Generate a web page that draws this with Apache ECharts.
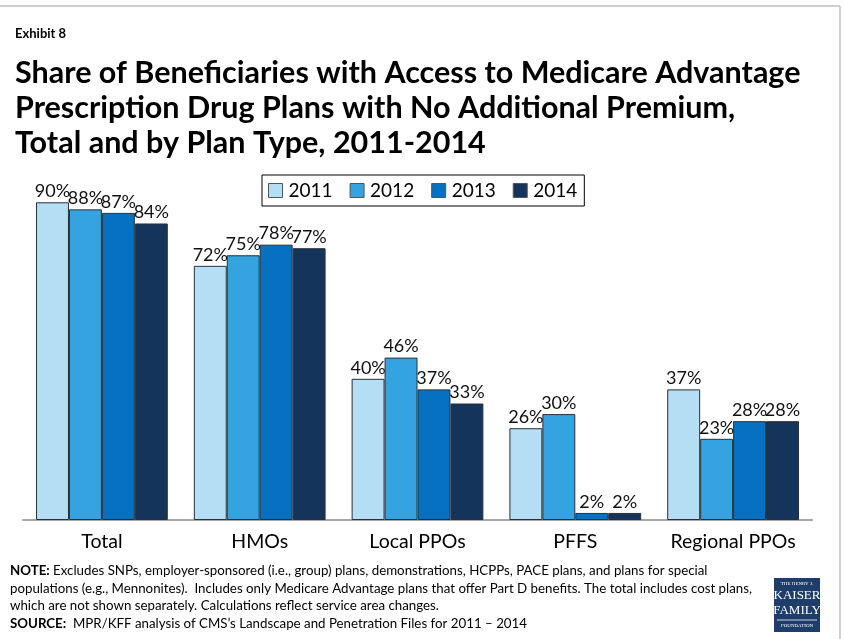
<!DOCTYPE html>
<html>
<head>
<meta charset="utf-8">
<script src="https://cdn.jsdelivr.net/npm/echarts@6/dist/echarts.min.js"></script>
<style>
  html, body { margin: 0; padding: 0; background: #ffffff; }
  #chart { width: 844px; height: 639px; }
</style>
</head>
<body>
<div id="chart"></div>
<script>
// Plan types along the x axis
const categories = ['Total', 'HMOs', 'Local PPOs', 'PFFS', 'Regional PPOs'];
// Share (%) of beneficiaries with a $0-premium MA-PD plan, by year
const years = ['2011', '2012', '2013', '2014'];
const values2011 = [90, 72, 40, 26, 37];
const values2012 = [88, 75, 46, 30, 23];
const values2013 = [87, 78, 37, 2, 28];
const values2014 = [84, 77, 33, 2, 28];
const seriesValues = [values2011, values2012, values2013, values2014];

const colors = ['#B4DEF3', '#35A3E0', '#0571C0', '#15345B'];
const FONT = 'Lato';

const chart = echarts.init(document.getElementById('chart'), null, { renderer: 'canvas' });

chart.setOption({
  backgroundColor: '#ffffff',
  animation: false,
  textStyle: { fontFamily: FONT },
  title: [
    {
      text: 'Exhibit 8',
      left: 10, top: 22,
      textStyle: { fontSize: 13, fontWeight: 'bold', color: '#000', fontFamily: FONT }
    },
    {
      text: 'Share of Beneficiaries with Access to Medicare Advantage\nPrescription Drug Plans with No Additional Premium,\nTotal and by Plan Type, 2011-2014',
      left: 10, top: 51,
      textStyle: { fontSize: 30.5, fontWeight: 'bold', color: '#000', fontFamily: FONT, lineHeight: 35 }
    }
  ],
  legend: {
    left: 262, top: 175,
    padding: [6, 7, 6, 6],
    itemGap: 17,
    itemWidth: 14, itemHeight: 14,
    borderColor: '#000', borderWidth: 1,
    icon: 'rect',
    itemStyle: { borderColor: '#555', borderWidth: 1 },
    textStyle: { fontSize: 19, color: '#000', fontFamily: FONT, padding: [0, 0, 0, 1] },
    data: years
  },
  grid: { left: 23, right: 32, top: 167, bottom: 119, containLabel: false },
  xAxis: {
    type: 'category',
    data: categories,
    axisLine: { lineStyle: { color: '#A6A6A6', width: 2 } },
    axisTick: { show: false },
    axisLabel: { interval: 0, fontSize: 19.5, color: '#000', margin: 12, fontFamily: FONT }
  },
  yAxis: {
    type: 'value', min: 0, max: 100, interval: 20,
    show: false
  },
  series: years.map((y, i) => ({
    name: y,
    type: 'bar',
    data: seriesValues[i],
    barGap: '0%',
    barCategoryGap: '16.5%',
    itemStyle: { color: colors[i], borderColor: '#2a2f36', borderWidth: 1 },
    label: {
      show: true, position: 'top', distance: 2,
      formatter: p => p.value + '%',
      fontSize: 18, color: '#111', fontFamily: FONT
    }
  })),
  graphic: [
    // page frame
    { type: 'line', shape: { x1: 0, y1: 6, x2: 840, y2: 6 }, style: { stroke: '#CFCFCF', lineWidth: 2 } },
    { type: 'line', shape: { x1: 840, y1: 6, x2: 840, y2: 639 }, style: { stroke: '#CFCFCF', lineWidth: 2 } },
    // notes
    {
      type: 'text', left: 10, top: 562,
      style: {
        text: '{b|NOTE:} Excludes SNPs, employer-sponsored (i.e., group) plans, demonstrations, HCPPs, PACE plans, and plans for special\npopulations (e.g., Mennonites).  Includes only Medicare Advantage plans that offer Part D benefits. The total includes cost plans,\nwhich are not shown separately. Calculations reflect service area changes.\n{b|SOURCE:}  MPR/KFF analysis of CMS\u2019s Landscape and Penetration Files for 2011 \u2013 2014',
        font: '13.3px ' + FONT, fill: '#000', lineHeight: 17.5,
        rich: { b: { fontWeight: 'bold', fontSize: 13.3, fontFamily: FONT, fill: '#000' } }
      }
    },
    // foundation logo
    { type: 'rect', shape: { x: 774, y: 578, width: 46, height: 54 }, style: { fill: '#1F3D6B' } },
    { type: 'text', style: { x: 797, y: 584, text: 'THE HENRY J.', textAlign: 'center', textVerticalAlign: 'middle', font: '5px serif', fill: '#fff' } },
    { type: 'text', style: { x: 797, y: 596, text: 'KAISER', textAlign: 'center', textVerticalAlign: 'middle', font: '13px "Liberation Serif"', fill: '#fff' } },
    { type: 'text', style: { x: 797, y: 611, text: 'FAMILY', textAlign: 'center', textVerticalAlign: 'middle', font: '13px "Liberation Serif"', fill: '#fff' } },
    { type: 'line', shape: { x1: 777, y1: 620, x2: 817, y2: 620 }, style: { stroke: '#fff', lineWidth: 0.8 } },
    { type: 'text', style: { x: 797, y: 626, text: 'FOUNDATION', textAlign: 'center', textVerticalAlign: 'middle', font: '5px serif', fill: '#fff' } }
  ]
});
</script>
</body>
</html>
